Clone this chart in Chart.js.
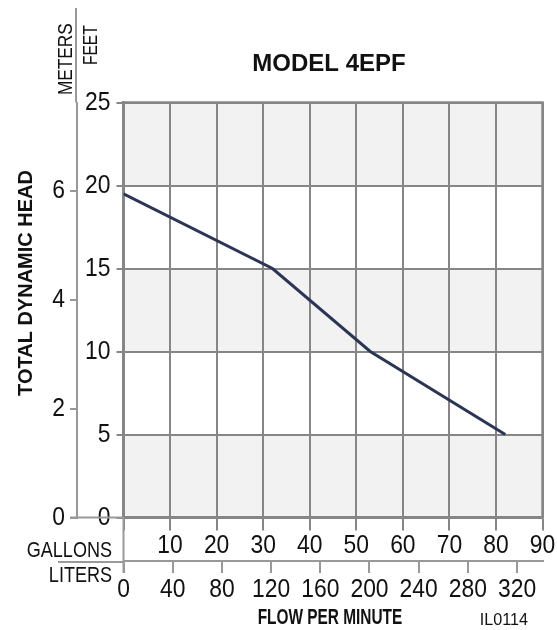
<!DOCTYPE html>
<html>
<head>
<meta charset="utf-8">
<script src="https://cdn.jsdelivr.net/npm/chart.js@4.4.1/dist/chart.umd.min.js"></script>
<style>
  html, body { margin: 0; padding: 0; background: #ffffff; }
  #c { display: block; }
</style>
</head>
<body>
<canvas id="c" width="557" height="630"></canvas>
<script>
// ---- data ----
const flowGallons = [0, 32, 53, 82];
const headFeet = [19.5, 15, 10, 5];
const feetTicks = [0, 5, 10, 15, 20, 25];
const meterTicks = [0, 2, 4, 6];
const gallonTicks = [0, 10, 20, 30, 40, 50, 60, 70, 80, 90];
const literTicks = [0, 40, 80, 120, 160, 200, 240, 280, 320];
const grayBandsFeet = [[0, 5], [10, 15], [20, 25]];
const titleText = 'MODEL 4EPF';
const yTitle = 'TOTAL DYNAMIC HEAD';
const xTitle = 'FLOW PER MINUTE';
const codeText = 'IL0114';

const GAL_MAX = 90, FEET_MAX = 25;
const L_PER_GAL = 3.78541, M_PER_FT = 0.3048;

const SANS = '"Liberation Sans", Arial, Helvetica, sans-serif';
const GRID = '#868686';
const AXIS = '#999999';
const TXT = '#111111';

// condensed text rendering (the reference uses a condensed Helvetica)
let squeeze = 0.88;
const canvas = document.getElementById('c');
const ctx0 = canvas.getContext('2d');
const origFill = CanvasRenderingContext2D.prototype.fillText;
ctx0.fillText = function (t, x, y, mw) {
  if (squeeze === 1) {
    return mw === undefined ? origFill.call(this, t, x, y) : origFill.call(this, t, x, y, mw);
  }
  this.save();
  this.translate(x, y);
  this.scale(squeeze, 1);
  if (mw === undefined) origFill.call(this, t, 0, 0);
  else origFill.call(this, t, 0, 0, mw / squeeze);
  this.restore();
};

const setTicks = arr => scale => { scale.ticks = arr.map(v => ({ value: v })); };

const extras = {
  id: 'extras',
  beforeDraw(chart) {
    squeeze = 0.88;
    const { ctx, chartArea: a, scales } = chart;
    ctx.save();
    ctx.fillStyle = '#ffffff';
    ctx.fillRect(0, 0, chart.width, chart.height);
    ctx.fillStyle = '#f2f2f2';
    grayBandsFeet.forEach(([lo, hi]) => {
      const y1 = scales.y.getPixelForValue(hi), y2 = scales.y.getPixelForValue(lo);
      ctx.fillRect(a.left, y1, a.right - a.left, y2 - y1);
    });
    ctx.restore();
  },
  afterDraw(chart) {
    const { ctx, chartArea: a, scales } = chart;
    const m = scales.m, lit = scales.lit;
    ctx.save();
    ctx.strokeStyle = AXIS;
    ctx.lineWidth = 2;
    ctx.beginPath();
    // meters axis line extension upward
    ctx.moveTo(m.right - 1, 8); ctx.lineTo(m.right - 1, a.top);
    // zero line between axes
    ctx.moveTo(m.right - 7, a.bottom); ctx.lineTo(a.left, a.bottom);
    // origin vertical extension down through both flow axes
    ctx.moveTo(a.left, a.bottom); ctx.lineTo(a.left, lit.top + 12);
    // liters axis line extension to the left
    ctx.moveTo(58, lit.top + 1); ctx.lineTo(a.left, lit.top + 1);
    ctx.stroke();
    // frame top & right
    ctx.strokeStyle = GRID;
    ctx.lineWidth = 2.5;
    ctx.beginPath();
    ctx.moveTo(a.left, a.top); ctx.lineTo(a.right, a.top); ctx.lineTo(a.right, a.bottom);
    ctx.stroke();

    ctx.fillStyle = TXT;
    ctx.textBaseline = 'alphabetic';
    // title (normal width bold)
    squeeze = 1;
    ctx.font = 'bold 24px ' + SANS;
    ctx.textAlign = 'center';
    ctx.fillText(titleText, 329, 71);
    // flow title (condensed bold)
    squeeze = 0.7;
    ctx.font = 'bold 22px ' + SANS;
    ctx.fillText(xTitle, 330, 624);
    // code
    squeeze = 0.95;
    ctx.font = '17px ' + SANS;
    ctx.textAlign = 'right';
    ctx.fillText(codeText, 528, 625);
    // gallons / liters
    squeeze = 0.82;
    ctx.font = '22px ' + SANS;
    ctx.fillText('GALLONS', 112, 557);
    ctx.fillText('LITERS', 112, 582);
    // rotated labels
    const rot = (text, x, y, font, align, sq) => {
      squeeze = sq;
      ctx.save();
      ctx.translate(x, y); ctx.rotate(-Math.PI / 2);
      ctx.font = font; ctx.textAlign = align; ctx.textBaseline = 'alphabetic';
      ctx.fillText(text, 0, 0);
      ctx.restore();
    };
    rot('METERS', 72, 95, '21px ' + SANS, 'left', 0.82);
    rot('FEET', 97, 65, '21px ' + SANS, 'left', 0.74);
    rot(yTitle, 32, 283, 'bold 20px ' + SANS, 'center', 1);
    ctx.restore();
    squeeze = 0.88;
  }
};

new Chart(canvas, {
  type: 'line',
  data: {
    datasets: [{
      data: flowGallons.map((g, i) => ({ x: g, y: headFeet[i] })),
      borderColor: '#2b3556',
      borderWidth: 3,
      pointRadius: 0,
      tension: 0,
      fill: false,
      xAxisID: 'x',
      yAxisID: 'y'
    }]
  },
  options: {
    responsive: false,
    animation: false,
    devicePixelRatio: 1,
    layout: { padding: { top: 102.5, left: 40, right: 11, bottom: 29 } },
    plugins: { legend: { display: false }, tooltip: { enabled: false }, title: { display: false } },
    scales: {
      x: {
        type: 'linear', position: 'bottom', weight: 0,
        min: 0, max: GAL_MAX,
        afterBuildTicks: setTicks(gallonTicks),
        afterFit: s => { s.height = 43.5; },
        grid: { display: true, drawOnChartArea: true, drawTicks: true, tickLength: 13, color: GRID, lineWidth: 2 },
        border: { display: true, color: GRID, width: 2.5 },
        ticks: { font: { family: SANS, size: 26 }, color: TXT, padding: 0, maxRotation: 0, autoSkip: false,
                 callback: v => (v === 0 ? '' : String(v)) }
      },
      lit: {
        type: 'linear', position: 'bottom', weight: 1,
        min: 0, max: GAL_MAX * L_PER_GAL,
        afterBuildTicks: setTicks(literTicks),
        afterFit: s => { s.height = 40; },
        grid: { display: true, drawOnChartArea: false, drawTicks: true, tickLength: 12, color: AXIS, lineWidth: 2 },
        border: { display: true, color: AXIS, width: 2 },
        ticks: { font: { family: SANS, size: 26 }, color: TXT, padding: 1, maxRotation: 0, autoSkip: false,
                 callback: v => String(v) }
      },
      y: {
        type: 'linear', position: 'left', weight: 0,
        min: 0, max: FEET_MAX,
        afterBuildTicks: setTicks(feetTicks),
        afterFit: s => { s.width = 46.5; },
        grid: { display: true, drawOnChartArea: true, drawTicks: true, tickLength: 7, color: GRID, lineWidth: 2 },
        border: { display: true, color: GRID, width: 2.5 },
        ticks: { font: { family: SANS, size: 26 }, color: TXT, padding: 6, autoSkip: false,
                 callback: v => String(v) }
      },
      m: {
        type: 'linear', position: 'left', weight: 1,
        min: 0, max: FEET_MAX * M_PER_FT,
        afterBuildTicks: setTicks(meterTicks),
        afterFit: s => { s.width = 37; },
        grid: { display: true, drawOnChartArea: false, drawTicks: true, tickLength: 7, color: AXIS, lineWidth: 2 },
        border: { display: true, color: AXIS, width: 2 },
        ticks: { font: { family: SANS, size: 26 }, color: TXT, padding: 5, autoSkip: false,
                 callback: v => String(v) }
      }
    }
  },
  plugins: [extras]
});
</script>
</body>
</html>
